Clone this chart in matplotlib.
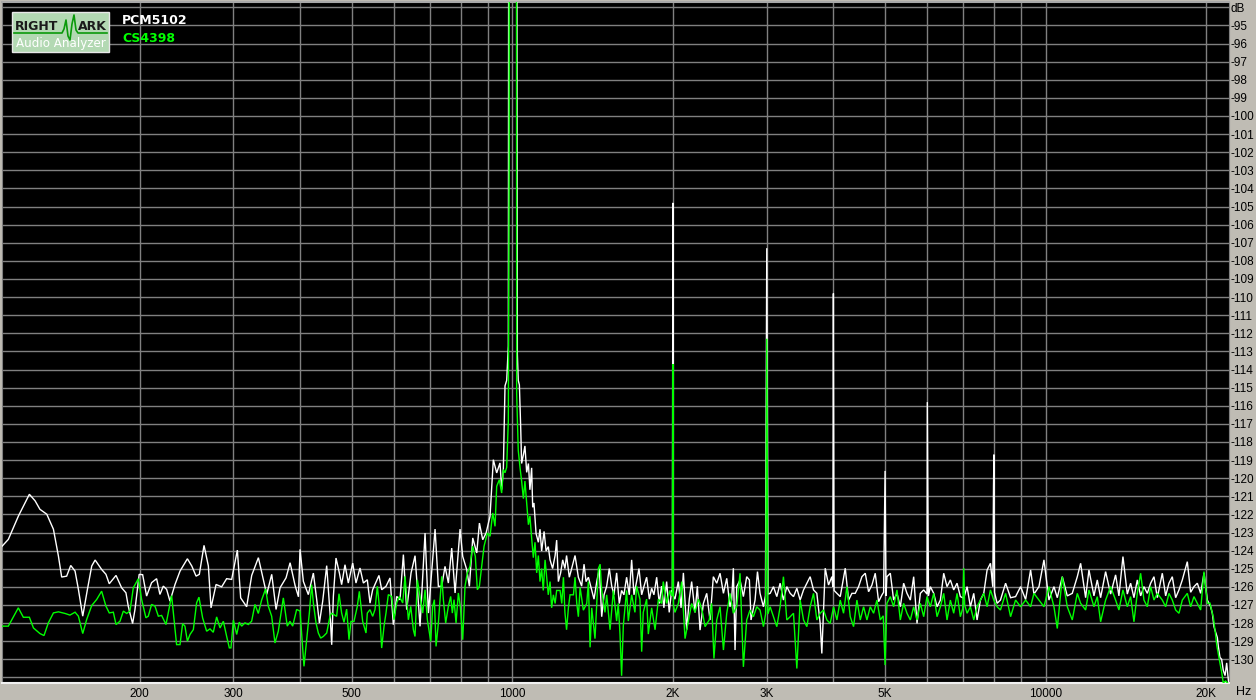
import matplotlib
matplotlib.use("Agg")
import matplotlib.pyplot as plt
from matplotlib.ticker import FixedLocator, FixedFormatter, NullLocator
from matplotlib.patches import Rectangle
from matplotlib.lines import Line2D

plt.rcParams["font.family"] = ["Liberation Sans", "DejaVu Sans"]

# ---------------- data ----------------
pcm5102_hz = [
    110.3, 113.5, 118.6, 124.3, 127.4, 130.1, 134.0, 137.9, 140.9, 142.9, 146.0, 148.6, 151.4, 153.6,
    156.5, 159.7, 162.7, 165.1, 169.8, 173.0, 175.5, 180.7, 185.1, 188.6, 190.5, 194.1, 196.1, 199.7,
    202.7, 206.2, 210.7, 215.3, 218.4, 221.6, 224.8, 228.1, 233.1, 238.2, 245.9, 250.6, 255.3, 258.9,
    264.2, 269.2, 272.3, 278.3, 285.1, 291.3, 297.7, 305.1, 309.5, 317.6, 324.6, 334.1, 341.3, 346.3,
    353.9, 360.6, 366.9, 376.5, 383.1, 391.4, 397.2, 399.9,
    405.7, 414.5, 423.6, 429.8, 434.8, 441.0, 448.7, 455.2, 458.5, 461.8, 467.1, 474.0, 478.6, 485.6,
    492.6, 502.0, 509.2, 518.1, 525.7, 534.7, 541.0, 547.2, 562.3, 569.0, 579.7, 589.8, 598.3, 607.0,
    615.8, 624.8, 633.8, 645.8, 657.1, 666.6, 671.4, 686.1, 696.1, 716.4, 726.7, 737.3, 747.9, 758.8,
    769.8, 781.1, 798.0, 807.2, 821.3, 830.8, 843.0, 857.7, 867.6, 880.1, 892.9, 908.2, 921.3, 934.8,
    948.2, 955.1, 962, 969, 976, 983, 987.3, 1000, 1016,
    1022, 1026, 1031, 1037, 1041, 1049, 1056, 1064, 1072, 1079, 1087, 1092, 1098, 1108, 1119, 1127,
    1135, 1147, 1157, 1168, 1177, 1190, 1203, 1211, 1220, 1232, 1243, 1255, 1264, 1279, 1292, 1311,
    1330, 1349, 1363, 1375, 1389, 1409, 1423, 1440, 1456, 1471, 1486, 1503, 1520, 1536, 1551, 1569,
    1587, 1603, 1619, 1638, 1657, 1674, 1691, 1710, 1728, 1748, 1766, 1786, 1807, 1825, 1843, 1865,
    1886, 1905, 1924, 1947, 1969, 1989, 1996, 2000, 2004, 2018, 2048, 2072, 2093, 2123, 2147, 2169,
    2201, 2223,
    2249, 2282, 2315, 2348, 2382, 2417, 2452, 2488, 2524, 2560, 2578, 2597, 2616, 2635, 2673, 2712,
    2751, 2783, 2803, 2852, 2882, 2914, 2957, 2983, 3000, 3017, 3044, 3088, 3133, 3178, 3224, 3271,
    3319, 3367, 3416, 3465, 3516, 3567, 3618, 3671, 3724, 3778, 3805, 3861, 3917, 3974, 3990, 4000,
    4012, 4061, 4120, 4210, 4271, 4333, 4395, 4459, 4524, 4590, 4656, 4724, 4792, 4862, 4932, 4968,
    5000, 5020, 5040, 5114, 5188, 5263, 5340, 5417, 5496, 5576, 5657, 5739, 5822, 5907, 5992, 6000,
    6030, 6079, 6168, 6257, 6348, 6440, 6533, 6628, 6724, 6822, 6921, 7022, 7124, 7227, 7332, 7438,
    7546, 7656, 7767, 7880, 7960, 7985, 8000, 8020, 8110, 8228,
    8413, 8596, 8783, 8976, 9172, 9372, 9508, 9716, 9928, 10144, 10366, 10516, 10745, 10980, 11219,
    11465, 11631, 11885, 12057, 12320, 12498, 12679, 12956, 13238, 13527, 13723, 13963, 14227, 14433,
    14642, 14855, 15070, 15289, 15511, 15736, 15964, 16196, 16549, 16789, 17032, 17279, 17530, 17784,
    18042, 18436, 18703, 18974, 19250, 19529, 19812, 20100, 20391, 20539, 20687, 20780, 20987, 21080,
    21230, 21380, 21530, 21700, 21850, 22020, 22100,
]
pcm5102_db = [
    -123.78, -123.38, -122.08, -120.89, -121.25, -121.72, -121.99, -122.82, -124.30, -125.46, -125.41,
    -124.82, -125.13, -126.14, -127.62, -126.14, -124.85, -124.52, -125.04, -125.31, -125.83, -125.37,
    -126.05, -126.33, -127.07, -128.03, -127.25, -125.31, -125.33, -126.51, -125.77, -125.55, -126.42,
    -125.96, -126.14, -126.79, -125.87, -125.13, -124.45, -124.85, -125.41, -125.31, -123.71, -124.85,
    -127.16, -125.87, -126.00, -125.55, -125.59, -123.97, -126.61, -127.10, -125.37, -124.39, -125.59,
    -126.42, -125.31, -127.25, -126.05, -125.50, -124.67, -125.92, -126.55, -123.93,
    -125.70, -126.43, -125.24, -126.71, -128.00, -126.80, -124.83, -127.45, -129.20, -126.53, -124.41,
    -125.24, -125.88, -124.78, -125.79, -124.69, -125.79, -124.96, -125.79, -125.61, -126.90, -126.16,
    -125.37, -126.16, -125.97, -125.51, -128.09, -126.53, -126.71, -124.22, -127.26, -125.24, -124.28,
    -126.90, -128.18, -123.03, -127.45, -122.81, -125.97, -125.97, -124.87, -125.79, -123.86, -126.34,
    -122.81, -124.32, -125.05, -125.97, -123.30, -124.13, -122.48, -123.40, -123.03, -122.11, -118.98,
    -119.71, -119.16, -120.63, -119.50, -114.90, -114.60, -112.70, -40.0, -20.0, -40.0,
    -113.15, -114.60, -114.85, -117.26, -119.19, -118.71, -118.22, -119.68, -119.19, -120.64, -119.43,
    -121.61, -121.37, -123.06, -123.54, -122.82, -124.02, -122.94, -124.02, -123.78, -124.51, -124.99,
    -124.27, -123.42, -125.71, -125.23, -124.51, -124.99, -124.27, -125.47, -124.99, -124.27, -125.47,
    -125.96, -124.75, -125.71, -125.47, -126.20, -126.68, -125.71, -124.99, -127.65, -126.44, -125.96,
    -124.99, -125.96, -126.44, -125.23, -126.92, -126.20, -126.44, -125.47, -126.44, -124.51, -126.44,
    -125.71, -124.99, -126.44, -125.96, -125.47, -126.68, -126.08, -126.44, -125.47, -126.92, -125.96,
    -127.16, -125.71, -127.41, -126.20, -126.30, -104.80, -126.50, -126.68, -125.71, -127.16, -125.23,
    -128.37, -126.68, -125.71, -127.41, -125.96,
    -128.39, -126.91, -126.36, -127.83, -125.44, -125.80, -125.25, -126.36, -125.53, -127.10, -126.73,
    -124.97, -129.49, -125.99, -125.62, -126.54, -125.44, -125.62, -127.83, -126.73, -125.16, -126.36,
    -127.10, -126.50, -107.30, -126.40, -126.36, -125.99, -126.54, -125.80, -126.73, -125.99, -126.36,
    -126.54, -126.08, -126.73, -126.17, -125.80, -125.44, -126.17, -126.36, -128.02, -129.68, -124.97,
    -125.90, -125.44, -126.00, -109.80, -126.20, -126.36, -126.54, -124.97, -126.73, -126.36, -126.36,
    -125.99, -125.44, -125.25, -126.27, -125.90, -125.25, -126.82, -126.45, -126.30, -119.60, -126.50,
    -125.44, -125.25, -126.73, -126.36, -127.10, -125.80, -126.36, -126.73, -125.44, -128.02, -126.36,
    -126.17, -126.40, -115.80, -126.50, -125.99, -126.36, -127.10, -126.73, -125.25, -125.99, -125.62,
    -126.17, -125.80, -126.54, -126.63, -125.99, -127.10, -126.36, -127.83, -126.73, -126.36, -125.07,
    -124.70, -126.00, -120.40, -118.70, -126.30, -126.91, -126.73,
    -125.80, -126.60, -126.54, -125.99, -126.70, -125.07, -126.40, -125.99, -124.51, -126.73, -125.99,
    -126.60, -125.44, -126.50, -126.36, -125.44, -124.70, -126.60, -125.07, -126.50, -125.62, -126.60,
    -125.16, -126.40, -125.34, -126.50, -124.33, -126.40, -125.80, -126.60, -125.62, -126.50, -125.99,
    -126.36, -125.80, -125.44, -126.60, -125.25, -126.50, -125.80, -125.44, -126.60, -126.17, -125.62,
    -124.61, -126.30, -125.99, -125.80, -126.36, -125.25, -126.73, -127.10, -127.46, -128.20, -128.40,
    -128.80, -129.30, -129.90, -130.00, -130.60, -130.90, -130.20, -131.20, -131.30,
]

cs4398_hz = [
    110.3, 113.5, 118.5, 121.1, 124.3, 126.5, 130.1, 132.4, 134.9, 137.9, 140.9, 145.0, 148.1, 151.4,
    153.6, 156.5, 159.2, 162.7, 166.2, 169.8, 173.0, 175.5, 178.6, 180.7, 183.8, 186.5, 189.2, 191.9,
    194.7, 199.0, 201.8, 205.6, 207.7, 210.7, 213.8, 216.9, 220.0, 224.2, 229.7, 234.7, 238.2, 240.9,
    243.3, 245.9, 248.7, 252.3, 255.9, 258.5, 262.6, 267.2, 271.1, 275.0, 279.0, 283.1, 287.2, 291.3,
    294.7, 296.8, 299.9, 304.2, 307.7, 310.8, 315.3, 319.9, 324.5, 329.2, 334.0, 338.8, 344.7, 348.7,
    353.8, 358.9, 364.1, 372.1, 378.5, 382.9, 387.4, 394.1, 399.9,
    402.7, 406.8, 411.5, 416.3, 420.5, 423.6, 428.5, 432.8, 437.2, 442.2, 448.7, 455.1, 458.5, 463.1,
    468.4, 473.2, 478.6, 483.5, 489.1, 494.1, 498.3, 504.8, 512.1, 516.6, 524.1, 531.7, 534.7, 540.9,
    547.2, 552.7, 558.4, 563.2, 568.9, 574.7, 579.6, 585.5, 594.0, 600.0, 607.0, 614.0, 623.0, 629.3,
    638.4, 644.9, 652.3, 657.0, 663.7, 671.4, 679.2, 686.1, 693.0, 703.1, 709.1, 714.3, 719.5, 726.7,
    737.3, 742.6, 750.0, 758.6, 766.4, 771.9, 777.5, 784.3, 792.2, 799.0, 807.2, 815.3, 823.5, 833.0,
    842.7, 852.4, 859.9, 867.4, 876.2, 885.1, 897.9, 908.3, 918.8, 928.1, 934.8, 945.6, 955.0, 961.9,
    969, 976, 983, 986.6, 987.3, 1000, 1016,
    1019, 1026, 1034, 1041, 1049, 1056, 1064, 1072, 1079, 1087, 1095, 1103, 1111, 1119, 1127, 1135,
    1143, 1152, 1160, 1168, 1177, 1185, 1194, 1203, 1211, 1229, 1238, 1247, 1255, 1264, 1274, 1283,
    1302, 1311, 1321, 1330, 1340, 1359, 1379, 1389, 1399, 1409, 1429, 1440, 1450, 1461, 1471, 1492,
    1503, 1525, 1547, 1569, 1580, 1592, 1603, 1615, 1638, 1650, 1674, 1698, 1710, 1735, 1748, 1760,
    1786, 1799, 1825, 1852, 1879, 1905, 1919, 1947, 1975, 1989, 1995, 2000, 2005, 2018, 2048, 2078,
    2108, 2138, 2169, 2201, 2233,
    2249, 2275, 2298, 2340, 2365, 2388, 2417, 2452, 2488, 2524, 2560, 2597, 2635, 2673, 2712, 2751,
    2791, 2832, 2873, 2914, 2957, 2985, 3000, 3015, 3044, 3088, 3133, 3178, 3224, 3271, 3319, 3367,
    3416, 3465, 3516, 3567, 3618, 3671, 3724, 3778, 3833, 3889, 3945, 4003, 4061, 4120, 4179, 4240,
    4302, 4364, 4427, 4492, 4557, 4623, 4690, 4758, 4827, 4897, 4960, 5000, 5040, 5114, 5188, 5263,
    5340, 5417, 5496, 5576, 5657, 5739, 5822, 5907, 5992, 6079, 6168, 6257, 6348, 6440, 6533, 6628,
    6724, 6822, 6921, 6990, 7022, 7050, 7124, 7227, 7332, 7438, 7546, 7656, 7767, 7880, 7994, 8110,
    8228,
    8413, 8596, 8783, 8976, 9172, 9372, 9508, 9716, 9928, 10144, 10366, 10516, 10745, 10980, 11219,
    11465, 11631, 11885, 12057, 12320, 12498, 12679, 12956, 13238, 13527, 13723, 13963, 14227, 14433,
    14642, 14855, 15070, 15289, 15511, 15736, 15964, 16196, 16549, 16789, 17032, 17279, 17530, 17784,
    18042, 18436, 18703, 18974, 19250, 19529, 19812, 20100, 20330, 20630, 20780, 20930, 21160, 21380,
    21530, 21750, 22100,
]
cs4398_db = [
    -128.17, -128.17, -127.16, -127.68, -127.68, -128.27, -128.58, -128.69, -127.99, -127.44, -127.38,
    -127.47, -127.56, -127.40, -127.62, -128.58, -127.80, -127.03, -126.70, -126.24, -127.07, -127.44,
    -127.40, -128.08, -127.90, -127.34, -127.47, -127.34, -126.05, -125.55, -126.70, -127.71, -127.62,
    -126.97, -127.07, -127.62, -127.58, -128.08, -126.48, -129.19, -129.19, -128.03, -128.17, -129.00,
    -128.63, -128.36, -126.88, -126.57, -127.71, -128.45, -128.32, -128.51, -127.66, -128.27, -127.90,
    -128.73, -129.37, -129.37, -127.84, -128.63, -127.95, -128.17, -127.99, -128.08, -127.90, -126.97,
    -127.47, -126.73, -126.11, -127.07, -127.62, -129.10, -128.45, -126.61, -128.17, -127.90, -128.17,
    -127.25, -127.34,
    -128.55, -130.39, -128.92, -127.45, -125.88, -126.89, -128.00, -128.55, -128.83, -128.74, -128.55,
    -127.63, -127.45, -127.54, -127.63, -126.38, -127.45, -127.96, -127.23, -128.92, -127.91, -127.91,
    -127.08, -126.25, -127.91, -128.55, -127.45, -127.26, -127.63, -127.26, -125.97, -127.08, -129.38,
    -128.18, -127.45, -126.43, -126.53, -127.82, -126.89, -126.53, -126.89, -125.42, -127.82, -127.08,
    -128.37, -128.74, -125.61, -126.53, -127.45, -126.16, -127.82, -129.01, -127.08, -126.71, -129.29,
    -128.00, -125.42, -126.71, -128.00, -127.08, -126.53, -127.45, -126.71, -128.00, -126.34, -127.08,
    -128.92, -125.97, -125.24, -124.87, -123.76, -124.32, -126.16, -125.97, -124.87, -123.76, -123.03,
    -123.21, -121.92, -122.66, -120.45, -120.08, -120.82, -119.53,
    -119.70, -119.40, -116.80, -102.30, -40.0, -20.0, -40.0,
    -115.33, -118.47, -119.43, -120.16, -121.13, -120.16, -121.37, -122.57, -122.09, -123.30, -124.39,
    -123.54, -125.23, -124.27, -125.71, -124.99, -126.20, -124.51, -125.47, -126.44, -125.71, -127.16,
    -126.44, -126.92, -126.20, -126.20, -126.92, -125.47, -127.41, -128.37, -127.16, -126.44, -126.44,
    -125.47, -126.92, -127.65, -126.03, -127.29, -126.92, -125.71, -129.34, -127.16, -128.86, -126.92,
    -124.99, -124.75, -126.20, -127.41, -126.44, -128.37, -126.20, -127.89, -126.92, -128.61, -130.91,
    -128.13, -126.20, -127.89, -126.44, -127.41, -125.96, -126.68, -129.58, -127.41, -126.68, -128.61,
    -127.16, -128.37, -126.68, -126.92, -125.71, -126.92, -126.20, -126.44, -126.50, -113.70, -127.00,
    -127.41, -126.92, -125.71, -128.86, -127.89, -126.92, -127.41, -126.68,
    -126.91, -127.46, -128.20, -127.83, -126.91, -129.96, -127.83, -127.10, -129.49, -127.46, -126.36,
    -127.46, -127.10, -125.25, -130.42, -127.83, -127.28, -127.65, -127.10, -127.28, -128.20, -127.50,
    -112.30, -127.50, -127.10, -127.65, -128.20, -127.10, -125.44, -127.83, -127.65, -127.46, -130.51,
    -126.73, -127.83, -128.20, -127.10, -126.36, -127.83, -127.46, -127.28, -127.83, -128.02, -127.10,
    -127.83, -126.73, -127.46, -125.99, -127.65, -128.20, -126.73, -127.83, -127.10, -127.83, -127.10,
    -127.46, -126.73, -127.83, -127.60, -130.32, -126.91, -126.54, -127.10, -126.17, -127.83, -126.91,
    -127.46, -127.83, -127.10, -127.83, -126.91, -127.65, -126.54, -127.10, -126.36, -127.65, -127.10,
    -126.36, -127.83, -126.73, -127.46, -126.36, -127.65, -127.20, -124.97, -127.00, -127.46, -127.10,
    -127.83, -127.10, -126.73, -126.36, -127.10, -126.17, -126.73, -127.10, -127.28,
    -126.36, -127.65, -126.73, -127.10, -126.73, -127.10, -126.36, -126.73, -127.10, -125.99, -127.10,
    -128.30, -125.44, -127.10, -127.83, -126.36, -126.91, -127.28, -126.17, -127.10, -126.54, -127.93,
    -126.73, -125.99, -126.73, -127.28, -126.17, -127.10, -126.54, -127.93, -126.36, -125.25, -126.73,
    -127.10, -125.99, -126.73, -126.36, -126.73, -127.10, -126.36, -126.73, -127.28, -127.46, -126.73,
    -126.36, -127.10, -126.54, -126.91, -127.28, -125.16, -126.91, -126.90, -127.70, -128.40, -129.20,
    -130.00, -130.70, -131.30, -131.20, -131.40,
]

series_names = ["PCM5102", "CS4398"]
series_colors = ["#ffffff", "#00ff00"]

x_grid_hz = [200, 300, 400, 500, 600, 700, 800, 900, 1000, 2000, 3000, 4000,
             5000, 6000, 7000, 8000, 9000, 10000, 20000]
x_label_hz = [200, 300, 500, 1000, 2000, 3000, 5000, 10000, 20000]
x_label_text = ["200", "300", "500", "1000", "2K", "3K", "5K", "10000", "20K"]
y_grid_db = list(range(-131, -93))
y_label_db = list(range(-130, -94)) + [-94]
y_label_text = [str(v) for v in range(-130, -94)] + ["dB"]

x_range = (110.3, 22100)
y_range = (-131.31, -93.68)

# ---------------- figure ----------------
W, H = 1256, 700
bg = "#bfbcb4"
fig = plt.figure(figsize=(W / 100, H / 100), dpi=100, facecolor=bg)
ax = fig.add_axes([1.7 / W, (H - 683) / H, (1229.3 - 1.7) / W, (683 - 1.5) / H])
ax.set_facecolor("black")
ax.set_xscale("log")
ax.set_xlim(*x_range)
ax.set_ylim(*y_range)

# grid
for f in x_grid_hz:
    ax.axvline(f, color="#808080", lw=1.0, zorder=1)
for d in y_grid_db:
    ax.axhline(d, color="#808080", lw=1.0, zorder=1)

# curves
ax.plot(pcm5102_hz, pcm5102_db, color=series_colors[0], lw=1.0, zorder=3,
        solid_joinstyle="miter")
ax.plot(cs4398_hz, cs4398_db, color=series_colors[1], lw=1.0, zorder=4,
        solid_joinstyle="miter")

# ticks
lab_size = 8.5
ax.xaxis.set_major_locator(FixedLocator(x_label_hz))
ax.xaxis.set_major_formatter(FixedFormatter(x_label_text))
ax.xaxis.set_minor_locator(NullLocator())
ax.tick_params(axis="x", length=0, pad=3.5, labelsize=lab_size, colors="black")
ax.yaxis.tick_right()
ax.yaxis.set_major_locator(FixedLocator(y_label_db))
ax.yaxis.set_major_formatter(FixedFormatter(y_label_text))
ax.yaxis.set_minor_locator(NullLocator())
ax.tick_params(axis="y", length=0, pad=1.0, labelsize=lab_size, colors="black")

for s in ["left", "right"]:
    ax.spines[s].set_color("#808080")
ax.spines["top"].set_color("#a8a8a8")
ax.spines["top"].set_linewidth(1.5)
ax.spines["bottom"].set_color("#f0f0f0")
ax.spines["bottom"].set_linewidth(1.5)

fig.text(1244 / W, 1 - 692 / H, "Hz", ha="center", va="center", fontsize=lab_size + 0.5,
         color="black")

# ---------------- logo ----------------
def px(x, y):
    return (x / W, 1 - y / H)

lx0, ly0, lx1, ly1 = 12, 12, 109, 52
fig.patches.append(Rectangle(px(lx0, ly1), (lx1 - lx0) / W, (ly1 - ly0) / H,
                             transform=fig.transFigure, facecolor="#b3d9b3",
                             edgecolor="#e8e8e8", lw=1.0, zorder=10))
sq_x = [14, 62, 64, 66, 68, 70, 72, 74, 76, 78, 107]
sq_y = [33, 33, 29, 20, 36, 40, 24, 15, 30, 33, 33]
fig.lines.append(Line2D([v / W for v in sq_x], [1 - v / H for v in sq_y],
                        transform=fig.transFigure, color="#0a9a0a", lw=1.2, zorder=11))
fig.text(*px(15, 26.5), "RIGHT", ha="left", va="center", fontsize=9, fontweight="bold",
         family="DejaVu Sans", color="#1a1a1a", zorder=12)
fig.text(*px(78, 26), "ARK", ha="left", va="center", fontsize=9, fontweight="bold",
         family="DejaVu Sans", color="#1a1a1a", zorder=12)
fig.text(*px(60.5, 43.5), "Audio Analyzer", ha="center", va="center", fontsize=8.6,
         family="DejaVu Sans", color="white", zorder=12)

# legend texts
fig.text(*px(122, 21), series_names[0], ha="left", va="center", fontsize=9,
         fontweight="bold", family="DejaVu Sans", color=series_colors[0], zorder=12)
fig.text(*px(122, 38), series_names[1], ha="left", va="center", fontsize=9,
         fontweight="bold", family="DejaVu Sans", color=series_colors[1], zorder=12)

fig.savefig("out.png", dpi=100, facecolor=bg)
